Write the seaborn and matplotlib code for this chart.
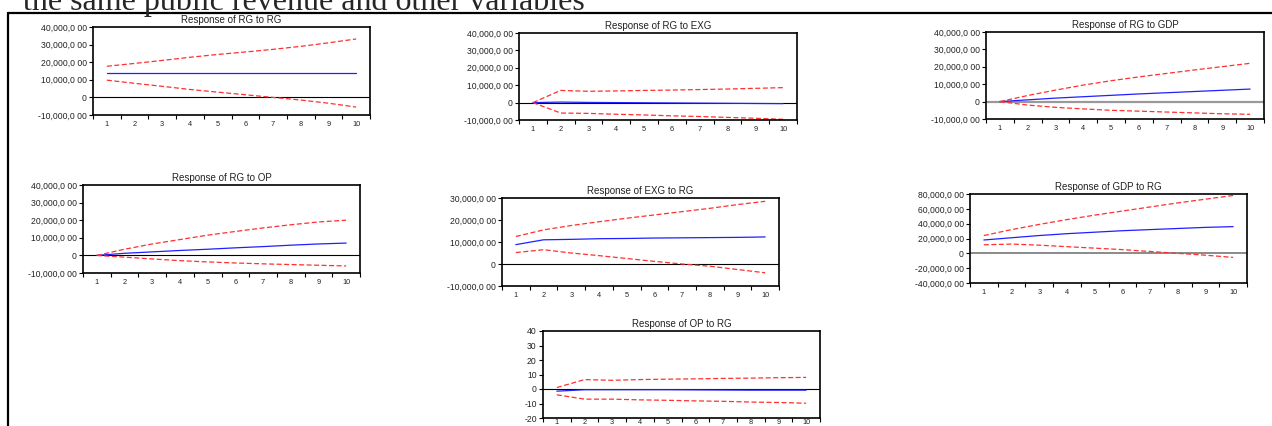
import matplotlib
matplotlib.use("Agg")
import matplotlib.pyplot as plt
from matplotlib.lines import Line2D
import seaborn as sns

sns.set_style("white")
plt.rcParams['font.family'] = ['Liberation Sans', 'DejaVu Sans']

W, H = 1272, 426

periods = [1, 2, 3, 4, 5, 6, 7, 8, 9, 10]

# response values
rg_rg_mid = [13800, 13800, 13800, 13800, 13800, 13800, 13800, 13800, 13800, 13800]
rg_rg_up = [17700, 19300, 21000, 22800, 24400, 25800, 27300, 29000, 31000, 33200]
rg_rg_lo = [9800, 8000, 6300, 4500, 3000, 1500, 0, -1500, -3300, -5500]

rg_exg_mid = [0, 300, 100, 0, -100, -200, -300, -400, -500, -600]
rg_exg_up = [0, 7000, 6500, 6700, 7000, 7200, 7500, 7800, 8200, 8600]
rg_exg_lo = [0, -6000, -6200, -6700, -7100, -7600, -8000, -8500, -9000, -9600]

rg_gdp_mid = [0, 1000, 2000, 2800, 3600, 4400, 5100, 5800, 6500, 7200]
rg_gdp_up = [0, 3500, 6600, 9500, 12000, 14200, 16200, 18200, 20100, 22000]
rg_gdp_lo = [0, -2000, -3300, -4200, -5000, -5500, -6000, -6500, -7000, -7300]

rg_op_mid = [0, 1200, 2000, 2800, 3500, 4300, 5000, 5800, 6500, 7000]
rg_op_up = [0, 3500, 6500, 9000, 11500, 13600, 15600, 17400, 19000, 20000]
rg_op_lo = [0, -1000, -2000, -3000, -3700, -4300, -4800, -5200, -5600, -6000]

exg_rg_mid = [8800, 11000, 11200, 11500, 11600, 11800, 11900, 12000, 12100, 12300]
exg_rg_up = [12500, 15500, 17500, 19200, 20800, 22300, 23800, 25300, 27000, 28500]
exg_rg_lo = [5200, 6500, 5000, 3800, 2500, 1200, 0, -1000, -2500, -4000]

gdp_rg_mid = [18000, 21000, 24000, 26500, 28500, 30500, 32000, 33500, 35000, 36000]
gdp_rg_up = [24000, 32000, 39000, 45500, 51500, 57000, 62500, 68000, 73000, 78000]
gdp_rg_lo = [11500, 12500, 11000, 9000, 7000, 5000, 2500, 0, -2500, -5500]

op_rg_mid = [-1.5, -0.5, -0.5, -0.5, -0.5, -0.6, -0.7, -0.8, -0.8, -0.8]
op_rg_up = [1, 6.5, 6, 6.5, 6.8, 7, 7.3, 7.5, 7.8, 8]
op_rg_lo = [-4, -7, -7, -7.5, -7.8, -8.2, -8.5, -9, -9.3, -9.8]

ticks_a = [-10000, 0, 10000, 20000, 30000, 40000]
labels_a = ["-10,000,0 00", "0", "10,000,0 00", "20,000,0 00", "30,000,0 00", "40,000,0 00"]
ticks_b = [-10000, 0, 10000, 20000, 30000]
labels_b = ["-10,000,0 00", "0", "10,000,0 00", "20,000,0 00", "30,000,0 00"]
ticks_c = [-40000, -20000, 0, 20000, 40000, 60000, 80000]
labels_c = ["-40,000,0 00", "-20,000,0 00", "0", "20,000,0 00", "40,000,0 00",
            "60,000,0 00", "80,000,0 00"]
ticks_d = [-20, -10, 0, 10, 20, 30, 40]
labels_d = ["-20", "-10", "0", "10", "20", "30", "40"]

fig = plt.figure(figsize=(W / 100, H / 100), dpi=100)


def panel(box, title, mid, up, lo, yticks, ylabels, zero_col="black", zero_lw=0.8, xpad=4):
    left, top, right, bottom = box
    ax = fig.add_axes([left / W, 1 - bottom / H, (right - left) / W, (bottom - top) / H])
    ax.axhline(0, color=zero_col, lw=zero_lw, zorder=1)
    sns.lineplot(x=periods, y=mid, ax=ax, color="#2020ff", lw=0.9)
    sns.lineplot(x=periods, y=up, ax=ax, color="#ff3030", lw=0.9,
                 linestyle=(0, (4, 2)))
    sns.lineplot(x=periods, y=lo, ax=ax, color="#ff3030", lw=0.9,
                 linestyle=(0, (4, 2)))
    ax.set_xlim(0.5, 10.5)
    ax.set_ylim(yticks[0], yticks[-1])
    ax.set_xticks([i + 0.5 for i in range(0, 11)])
    ax.set_xticklabels([])
    ax.set_xticks(periods, minor=True)
    ax.set_xticklabels([str(p) for p in periods], minor=True)
    ax.set_yticks(yticks)
    ax.set_yticklabels(ylabels)
    ax.tick_params(axis="x", which="major", direction="out", length=3, width=0.8,
                   color="black", bottom=True)
    ax.tick_params(axis="x", which="minor", length=0, labelsize=5.3, pad=xpad, colors="#222222")
    ax.tick_params(axis="y", direction="out", length=3, width=0.8, color="black",
                   labelsize=6.2, pad=1.5, colors="#222222", left=True)
    for s in ax.spines.values():
        s.set_color("black")
        s.set_linewidth(1.2)
    ax.set_title(title, fontsize=7, pad=3, color="#222222")
    ax.set_xlabel("")
    ax.set_ylabel("")
    return ax


panel((93, 27, 370, 115), "Response of RG to RG", rg_rg_mid, rg_rg_up, rg_rg_lo, ticks_a, labels_a)
panel((519, 33, 797, 120), "Response of RG to EXG", rg_exg_mid, rg_exg_up, rg_exg_lo, ticks_a, labels_a)
panel((986, 32, 1264, 119), "Response of RG to GDP", rg_gdp_mid, rg_gdp_up, rg_gdp_lo, ticks_a, labels_a,
      zero_col="#999999", zero_lw=1.6)
panel((83, 185, 360, 273), "Response of RG to OP", rg_op_mid, rg_op_up, rg_op_lo, ticks_a, labels_a)
panel((502, 198, 779, 286), "Response of EXG to RG", exg_rg_mid, exg_rg_up, exg_rg_lo, ticks_b, labels_b)
panel((970, 194, 1247, 283), "Response of GDP to RG", gdp_rg_mid, gdp_rg_up, gdp_rg_lo, ticks_c, labels_c,
      zero_col="#777777", zero_lw=1.2)
panel((543, 331, 820, 418), "Response of OP to RG", op_rg_mid, op_rg_up, op_rg_lo, ticks_d, labels_d,
      xpad=0.5)

# page frame and cut-off heading from the document
fig.add_artist(Line2D([8 / W, 1], [1 - 13 / H, 1 - 13 / H], color="black", lw=1.6,
                      transform=fig.transFigure))
fig.add_artist(Line2D([8 / W, 8 / W], [1 - 13 / H, 0], color="black", lw=1.6,
                      transform=fig.transFigure))
fig.text(23 / W, 1 - 10 / H, "the same public revenue and other variables",
         family="Liberation Serif", fontsize=23, va="baseline", ha="left")

fig.savefig("out.png", dpi=100)
